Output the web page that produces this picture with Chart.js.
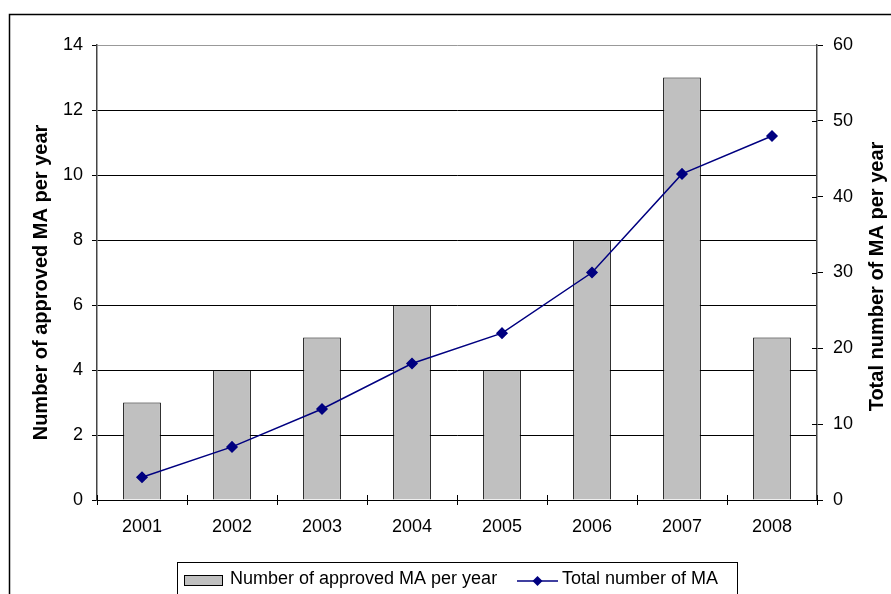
<!DOCTYPE html>
<html>
<head>
<meta charset="utf-8">
<script src="https://cdn.jsdelivr.net/npm/chart.js@4.4.0/dist/chart.umd.min.js"></script>
<style>
  html, body { margin: 0; padding: 0; background: #fff; }
  #wrap { width: 891px; height: 594px; }
</style>
</head>
<body>
<div id="wrap"><canvas id="chart"></canvas></div>
<script>
// Datos del gráfico
const years = ['2001', '2002', '2003', '2004', '2005', '2006', '2007', '2008'];
const approvedPerYear = [3, 4, 5, 6, 4, 8, 13, 5];
const totalMA = [3, 7, 12, 18, 22, 30, 43, 48];
const leftTicks = [0, 2, 4, 6, 8, 10, 12, 14];
const rightTicks = [0, 10, 20, 30, 40, 50, 60];

const barLabel = 'Number of approved MA per year';
const lineLabel = 'Total number of MA';
const rightTitle = 'Total number of MA per year';
const FONT = 'Liberation Sans, Arial, sans-serif';

// Marco exterior del gráfico
const framePlugin = {
    id: 'frame',
    beforeDraw(chart) {
        const c = chart.ctx;
        c.save();
        c.fillStyle = '#fff';
        c.fillRect(0, 0, chart.width, chart.height);
        c.strokeStyle = '#000';
        c.lineWidth = 1.5;
        c.strokeRect(9.5, 14.5, 900, 620);
        c.restore();
    }
};

// Títulos de los ejes (los dos giran en el mismo sentido)
const titlesPlugin = {
    id: 'axisTitles',
    afterDraw(chart) {
        const c = chart.ctx;
        const mid = (chart.chartArea.top + chart.chartArea.bottom) / 2;
        c.save();
        c.fillStyle = '#000';
        c.font = 'bold 20px ' + FONT;
        c.textAlign = 'center';
        c.textBaseline = 'middle';
        c.translate(41, mid + 10);
        c.rotate(-Math.PI / 2);
        c.fillText(barLabel, 0, 0);
        c.restore();
        c.save();
        c.fillStyle = '#000';
        c.font = 'bold 20px ' + FONT;
        c.textAlign = 'center';
        c.textBaseline = 'middle';
        c.translate(877, mid + 4);
        c.rotate(-Math.PI / 2);
        c.fillText(rightTitle, 0, 0);
        c.restore();
    }
};

// Leyenda dibujada a mano (caja con barra gris y línea con rombo)
const legendPlugin = {
    id: 'boxLegend',
    afterDraw(chart) {
        const c = chart.ctx;
        c.save();
        c.strokeStyle = '#000';
        c.lineWidth = 1;
        c.strokeRect(177.5, 562.5, 560, 60);
        // muestra de la barra
        c.fillStyle = '#C0C0C0';
        c.fillRect(184.5, 575.5, 38, 10);
        c.strokeRect(184.5, 575.5, 38, 10);
        c.fillStyle = '#000';
        c.font = '18px ' + FONT;
        c.textBaseline = 'middle';
        c.fillText(barLabel, 230, 579);
        // muestra de la línea
        c.strokeStyle = '#000080';
        c.lineWidth = 1.5;
        c.beginPath();
        c.moveTo(517, 581);
        c.lineTo(558, 581);
        c.stroke();
        c.fillStyle = '#000080';
        c.beginPath();
        c.moveTo(537.5, 576);
        c.lineTo(542.5, 581);
        c.lineTo(537.5, 586);
        c.lineTo(532.5, 581);
        c.closePath();
        c.fill();
        c.fillStyle = '#000';
        c.fillText(lineLabel, 562, 579);
        c.restore();
    }
};

// Marcas del eje X y parte interior de las marcas del eje derecho
const ticksPlugin = {
    id: 'crossTicks',
    afterDatasetsDraw(chart) {
        const x = chart.scales.x;
        const y1 = chart.scales.y1;
        const c = chart.ctx;
        const area = chart.chartArea;
        c.save();
        c.strokeStyle = '#000';
        c.lineWidth = 1;
        for (let i = 0; i <= years.length; i++) {
            const px = Math.round(x.left + (x.width / years.length) * i) + 0.5;
            c.beginPath();
            c.moveTo(px, area.bottom - 5);
            c.lineTo(px, area.bottom + 5);
            c.stroke();
        }
        rightTicks.forEach(v => {
            if (v === 60) return;
            const py = Math.round(y1.getPixelForValue(v)) + 0.5;
            c.beginPath();
            c.moveTo(area.right - 5, py);
            c.lineTo(area.right, py);
            c.stroke();
        });
        c.restore();
    }
};

const ctx = document.getElementById('chart').getContext('2d');

let chart = new Chart(ctx, {
    data: {
        labels: years,
        datasets: [{
            type: 'line',
            label: lineLabel,
            data: totalMA,
            yAxisID: 'y1',
            borderColor: '#000080',
            backgroundColor: '#000080',
            borderWidth: 1.5,
            pointStyle: 'rectRot',
            pointRadius: 5,
            pointHoverRadius: 5,
            tension: 0,
            order: 0
        }, {
            type: 'bar',
            label: barLabel,
            data: approvedPerYear,
            yAxisID: 'y',
            backgroundColor: '#C0C0C0',
            borderColor: '#000',
            borderWidth: 1,
            categoryPercentage: 0.84,
            barPercentage: 0.5,
            order: 1
        }]
    },
    options: {
        responsive: true,
        maintainAspectRatio: false,
        animation: false,
        layout: { padding: { top: 45, left: 0, right: 0, bottom: 0 } },
        plugins: {
            legend: { display: false },
            tooltip: { enabled: false }
        },
        scales: {
            x: {
                offset: true,
                grid: { display: false, drawTicks: false, tickLength: 0 },
                border: { color: '#000', width: 1 },
                ticks: { color: '#000', font: { family: FONT, size: 18 }, padding: 16 },
                afterFit(scale) { scale.height = 94; }
            },
            y: {
                position: 'left',
                min: 0,
                max: 14,
                afterBuildTicks(scale) { scale.ticks = leftTicks.map(v => ({ value: v })); },
                grid: {
                    color: ctx => ctx.tick && ctx.tick.value === 14 ? '#999' : '#000',
                    tickColor: '#000',
                    tickLength: 5,
                    lineWidth: 1
                },
                border: { color: '#444', width: 1.5 },
                ticks: { color: '#000', font: { family: FONT, size: 18 }, padding: 9 },
                afterFit(scale) { scale.width = 97; }
            },
            y1: {
                position: 'right',
                min: 0,
                max: 60,
                afterBuildTicks(scale) { scale.ticks = rightTicks.map(v => ({ value: v })); },
                grid: { drawOnChartArea: false, color: '#000', tickLength: 6 },
                border: { color: '#444', width: 1.5 },
                ticks: { color: '#000', font: { family: FONT, size: 18 }, padding: 10 },
                afterFit(scale) { scale.width = 74; }
            }
        }
    },
    plugins: [framePlugin, ticksPlugin, titlesPlugin, legendPlugin]
});
</script>
</body>
</html>
